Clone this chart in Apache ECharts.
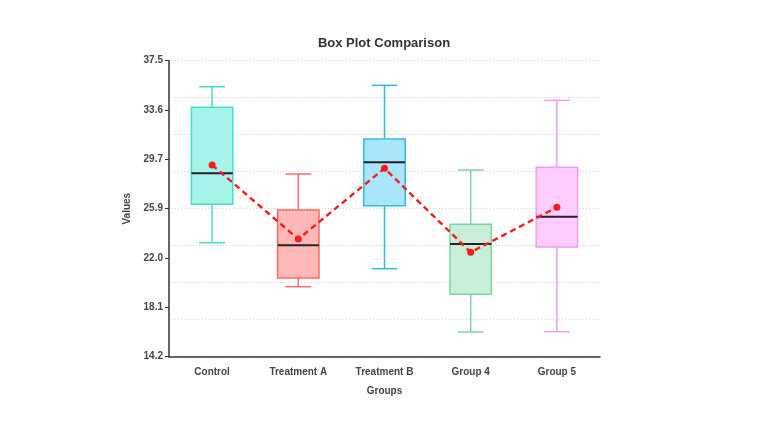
<!DOCTYPE html>
<html>
<head>
<meta charset="utf-8">
<script src="https://cdn.jsdelivr.net/npm/echarts@6/dist/echarts.min.js"></script>
<style>
  html, body { margin: 0; padding: 0; background: #fff; }
  #chart { width: 768px; height: 432px; }
</style>
</head>
<body>
<div id="chart"></div>
<script>
// groups on the x axis
const groups = ["Control", "Treatment A", "Treatment B", "Group 4", "Group 5"];
// box statistics
const lows    = [23.17, 19.71, 21.13, 16.14, 16.17];
const q1s     = [26.20, 20.39, 26.09, 19.11, 22.84];
const medians = [28.64, 22.97, 29.50, 23.07, 25.22];
const q3s     = [33.83, 25.75, 31.34, 24.62, 29.11];
const highs   = [35.45, 28.58, 35.56, 28.90, 34.38];
const means   = [29.29, 23.46, 29.03, 22.42, 25.96];
// y axis range
const yMin = 14.2;
const yMax = 37.5;

// colours per box: stroke / fill
const strokes = ["#40e0d0", "#ff6b6b", "#2bbbe8", "#7fd4a3", "#f09cf0"];
const fills   = ["#a6f3ea", "#ffb8b8", "#a9e6fa", "#c9efdb", "#ffccff"];

const boxData = groups.map((g, i) => [i, lows[i], q1s[i], medians[i], q3s[i], highs[i]]);

const chart = echarts.init(document.getElementById("chart"));

const option = {
  animation: false,
  title: {
    text: "Box Plot Comparison",
    left: "center",
    top: 32,
    textStyle: { fontFamily: "Liberation Sans", fontSize: 13, fontWeight: "bold", color: "#333" }
  },
  grid: { left: 169, right: 168, top: 60.7, bottom: 75.3 },
  xAxis: {
    type: "category",
    data: groups,
    name: "Groups",
    nameLocation: "middle",
    nameGap: 30,
    nameTextStyle: { fontFamily: "Liberation Sans", fontSize: 10, fontWeight: "bold", color: "#444" },
    axisLine: { lineStyle: { color: "#333", width: 1.5 } },
    axisTick: { show: false },
    axisLabel: { fontFamily: "Liberation Sans", fontSize: 10, fontWeight: "bold", color: "#444", margin: 11 },
    splitLine: { show: false }
  },
  yAxis: [
    {
      type: "value",
      min: yMin,
      max: yMax,
      interval: (yMax - yMin) / 6,
      name: "Values",
      nameLocation: "middle",
      nameGap: 36,
      nameTextStyle: { fontFamily: "Liberation Sans", fontSize: 10, fontWeight: "bold", color: "#444" },
      axisLine: { show: true, lineStyle: { color: "#333", width: 1.5 } },
      axisTick: { show: true, length: 4, lineStyle: { color: "#333" } },
      axisLabel: {
        fontFamily: "Liberation Sans", fontSize: 10, fontWeight: "bold", color: "#444", margin: 6,
        formatter: v => (v + 1e-9).toFixed(1)
      },
      splitLine: { show: false }
    },
    {
      // only the dotted grid lines
      type: "value",
      min: yMin,
      max: yMax,
      interval: (yMax - yMin) / 8,
      position: "left",
      axisLine: { show: false },
      axisTick: { show: false },
      axisLabel: { show: false },
      splitLine: { show: true, lineStyle: { color: "#d4d4d4", type: [1, 2], width: 1 } }
    }
  ],
  series: [
    {
      type: "custom",
      data: boxData,
      encode: { x: 0, y: [1, 2, 3, 4, 5] },
      z: 2,
      renderItem: function (params, api) {
        const i = api.value(0);
        const pLow = api.coord([i, api.value(1)]);
        const pQ1 = api.coord([i, api.value(2)]);
        const pMed = api.coord([i, api.value(3)]);
        const pQ3 = api.coord([i, api.value(4)]);
        const pHigh = api.coord([i, api.value(5)]);
        const band = api.size([1, 0])[0];
        const boxW = band * 0.48;
        const capW = band * 0.3;
        const cx = pMed[0];
        const stroke = strokes[i];
        const lineStyle = { stroke: stroke, lineWidth: 1.5, fill: null };
        return {
          type: "group",
          children: [
            { type: "line", shape: { x1: cx, y1: pHigh[1], x2: cx, y2: pQ3[1] }, style: lineStyle },
            { type: "line", shape: { x1: cx, y1: pQ1[1], x2: cx, y2: pLow[1] }, style: lineStyle },
            { type: "line", shape: { x1: cx - capW / 2, y1: pHigh[1], x2: cx + capW / 2, y2: pHigh[1] }, style: lineStyle },
            { type: "line", shape: { x1: cx - capW / 2, y1: pLow[1], x2: cx + capW / 2, y2: pLow[1] }, style: lineStyle },
            {
              type: "rect",
              shape: { x: cx - boxW / 2, y: pQ3[1], width: boxW, height: pQ1[1] - pQ3[1] },
              style: { fill: fills[i], stroke: stroke, lineWidth: 1.5 }
            },
            { type: "line", shape: { x1: cx - boxW / 2, y1: pMed[1], x2: cx + boxW / 2, y2: pMed[1] }, style: { stroke: "#222", lineWidth: 2 } }
          ]
        };
      }
    },
    {
      type: "line",
      data: means,
      z: 3,
      symbol: "circle",
      symbolSize: 7,
      itemStyle: { color: "#ff1a1a" },
      lineStyle: { color: "#ff1a1a", width: 2.4, type: [6, 4] }
    }
  ]
};

chart.setOption(option);
</script>
</body>
</html>
